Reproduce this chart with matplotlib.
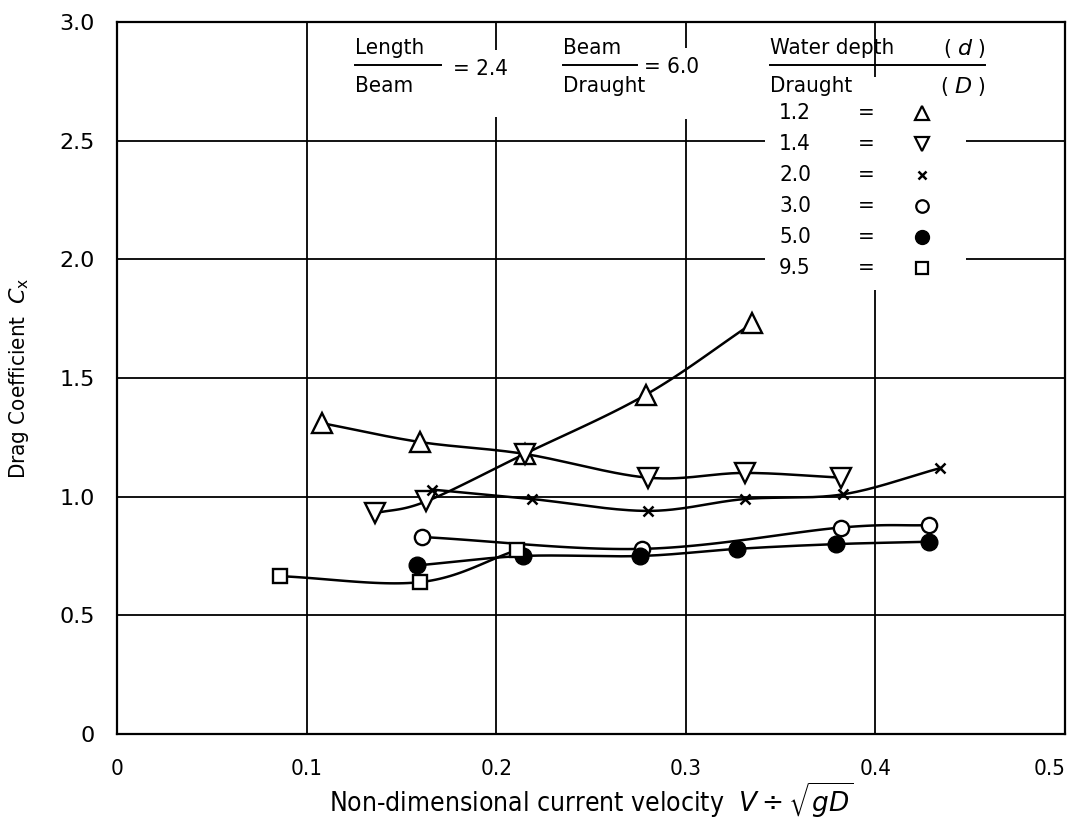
import numpy as np
import matplotlib.pyplot as plt

# points, one list per depth ratio d/D
x_12 = [0.108, 0.160, 0.215, 0.279, 0.335]
y_12 = [1.31, 1.23, 1.18, 1.43, 1.73]

x_14 = [0.136, 0.163, 0.215, 0.280, 0.331, 0.382]
y_14 = [0.93, 0.98, 1.18, 1.08, 1.10, 1.08]

x_20 = [0.166, 0.219, 0.280, 0.331, 0.383, 0.434]
y_20 = [1.03, 0.99, 0.94, 0.99, 1.01, 1.12]

x_30 = [0.161, 0.277, 0.382, 0.428]
y_30 = [0.83, 0.78, 0.87, 0.88]

x_50 = [0.158, 0.214, 0.276, 0.327, 0.379, 0.428]
y_50 = [0.71, 0.75, 0.75, 0.78, 0.80, 0.81]

x_95 = [0.086, 0.160, 0.211]
y_95 = [0.665, 0.64, 0.775]

ratios = ["1.2", "1.4", "2.0", "3.0", "5.0", "9.5"]

# the hand-drawn curves cross over at x=0.215: the left 1.2 points run on
# into the right 1.4 points and the other way round
curve_a = ([x_12[0], x_12[1], x_12[2]] + x_14[3:], [y_12[0], y_12[1], y_12[2]] + y_14[3:])
curve_b = (x_14[:3] + x_12[3:], y_14[:3] + y_12[3:])


def smooth(xs, ys, n=30):
    # catmull-rom through the points, like a french curve
    p = np.column_stack([xs, ys])
    p = np.vstack([2 * p[0] - p[1], p, 2 * p[-1] - p[-2]])
    out = []
    for i in range(1, len(p) - 2):
        p0, p1, p2, p3 = p[i - 1], p[i], p[i + 1], p[i + 2]
        t = np.linspace(0, 1, n)[:, None]
        seg = 0.5 * ((2 * p1) + (-p0 + p2) * t + (2 * p0 - 5 * p1 + 4 * p2 - p3) * t ** 2
                     + (-p0 + 3 * p1 - 3 * p2 + p3) * t ** 3)
        out.append(seg)
    out = np.vstack(out)
    return out[:, 0], out[:, 1]


plt.rcParams['font.family'] = ['DejaVu Sans']
nf = dict(family='DejaVu Sans', stretch='condensed', fontsize=16)

fig = plt.figure(figsize=(10.78, 8.18), dpi=100)
ax = fig.add_axes([0.1085, 0.1027, 0.8795, 0.8704])

ax.set_xlim(0, 0.5)
ax.set_ylim(0, 3.0)
ax.set_xticks([0, 0.1, 0.2, 0.3, 0.4, 0.5])
ax.set_xticklabels(["0", "0.1", "0.2", "0.3", "0.4", "0.5"])
ax.set_yticks([0, 0.5, 1.0, 1.5, 2.0, 2.5, 3.0])
ax.set_yticklabels(["0", "0.5", "1.0", "1.5", "2.0", "2.5", "3.0"])
ax.tick_params(axis='y', length=0, labelsize=16, pad=16)
ax.tick_params(axis='x', length=0, labelsize=16, pad=18)
for lab in ax.get_xticklabels():
    lab.set_fontstretch('condensed')
for lab in ax.get_yticklabels():
    lab.set_fontstretch('normal')
ax.get_xticklabels()[-1].set_ha('right')
ax.grid(True, color='black', lw=1.3)
for s in ax.spines.values():
    s.set_linewidth(1.6)

lw = 1.8
for cx, cy in [curve_a, curve_b, (x_20, y_20), (x_30, y_30), (x_50, y_50), (x_95, y_95)]:
    sx, sy = smooth(cx, cy)
    ax.plot(sx, sy, color='black', lw=lw, zorder=3)

ax.plot(x_12, y_12, ls='none', marker='^', ms=14, mfc='white', mec='black', mew=1.7, zorder=4)
ax.plot(x_14, y_14, ls='none', marker='v', ms=14, mfc='white', mec='black', mew=1.7, zorder=4)
ax.plot(x_20, y_20, ls='none', marker='x', ms=7, mec='black', mew=1.8, zorder=4)
ax.plot(x_30, y_30, ls='none', marker='o', ms=11, mfc='white', mec='black', mew=1.7, zorder=4)
ax.plot(x_50, y_50, ls='none', marker='o', ms=12, mfc='black', mec='black', zorder=4)
ax.plot(x_95, y_95, ls='none', marker='s', ms=10, mfc='white', mec='black', mew=1.7, zorder=4)

ax.set_xlabel(r"Non-dimensional current velocity  $V \div \sqrt{gD}$", labelpad=1,
              family='DejaVu Sans', stretch='condensed', fontsize=19)
ax.set_ylabel(r"Drag Coefficient  $C_{\mathrm{x}}$", labelpad=20, **nf)

# white patches where the key text breaks the grid
for rx, ry, rw, rh in [(0.194, 2.60, 0.012, 0.28), (0.294, 2.59, 0.012, 0.30),
                       (0.342, 1.87, 0.106, 0.90)]:
    ax.add_patch(plt.Rectangle((rx, ry), rw, rh, facecolor='white', edgecolor='none', zorder=2.5))

# key text at the top
ax.text(0.1255, 2.89, "Length", ha='left', va='center', zorder=5, **nf)
ax.plot([0.1255, 0.171], [2.82, 2.82], color='black', lw=1.4, zorder=5)
ax.text(0.1255, 2.73, "Beam", ha='left', va='center', zorder=5, **nf)
ax.text(0.177, 2.80, "= 2.4", ha='left', va='center', zorder=5, **nf)

ax.text(0.235, 2.89, "Beam", ha='left', va='center', zorder=5, **nf)
ax.plot([0.235, 0.274], [2.82, 2.82], color='black', lw=1.4, zorder=5)
ax.text(0.235, 2.73, "Draught", ha='left', va='center', zorder=5, **nf)
ax.text(0.278, 2.81, "= 6.0", ha='left', va='center', zorder=5, **nf)

ax.text(0.3444, 2.89, "Water depth", ha='left', va='center', zorder=5, **nf)
ax.text(0.458, 2.89, r"( $d$ )", ha='right', va='center', zorder=5, **nf)
ax.plot([0.3444, 0.458], [2.82, 2.82], color='black', lw=1.4, zorder=5)
ax.text(0.3444, 2.73, "Draught", ha='left', va='center', zorder=5, **nf)
ax.text(0.458, 2.73, r"( $D$ )", ha='right', va='center', zorder=5, **nf)

key_marks = [dict(marker='^', ms=10, mfc='white', mew=1.6),
             dict(marker='v', ms=10, mfc='white', mew=1.6),
             dict(marker='x', ms=6, mew=1.8),
             dict(marker='o', ms=9, mfc='white', mew=1.6),
             dict(marker='o', ms=10, mfc='black'),
             dict(marker='s', ms=8, mfc='white', mew=1.6)]
for i, (r, mk) in enumerate(zip(ratios, key_marks)):
    yy = 2.617 - i * 0.1305
    ax.text(0.3576, yy, r, ha='center', va='center', zorder=5, **nf)
    ax.text(0.395, yy, "=", ha='center', va='center', zorder=5, **nf)
    ax.plot([0.4246], [yy], ls='none', mec='black', color='black', zorder=5, **mk)

fig.savefig("out.png", dpi=100)
